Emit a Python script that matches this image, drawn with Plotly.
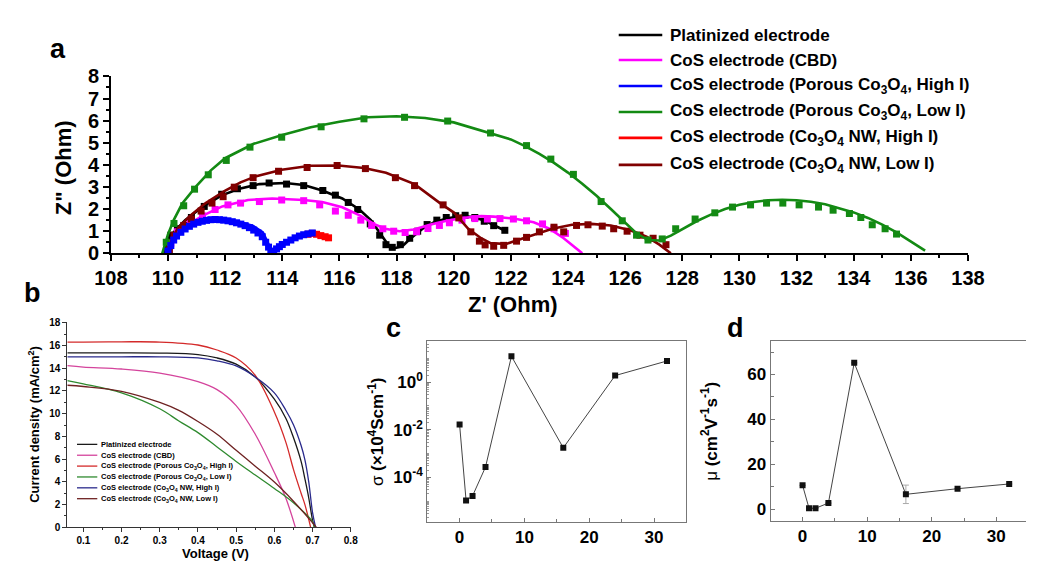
import plotly.graph_objects as go

W, H = 1043, 572
FONT = "Arial, Liberation Sans, sans-serif"

# ---------------- series names ----------------
names = [
    "Platinized electrode",
    "CoS electrode (CBD)",
    "CoS electrode (Porous Co<sub>3</sub>O<sub>4</sub>, High I)",
    "CoS electrode (Porous Co<sub>3</sub>O<sub>4</sub>, Low I)",
    "CoS electrode (Co<sub>3</sub>O<sub>4</sub> NW, High I)",
    "CoS electrode (Co<sub>3</sub>O<sub>4</sub> NW, Low I)",
]
colors_a = ["#000000", "#ff00ff", "#0000ff", "#138a13", "#ff0000", "#800000"]
colors_b = ["#1a1a1a", "#d4449c", "#d42a2a", "#2f8a2f", "#2a2a8c", "#6e2222"]

# ---------------- (a) Nyquist plots: Z' / Z'' in Ohm ----------------
# fitted curves and measured points
pt_fit_x = [109.88, 110.0, 110.2, 110.6, 111.2, 111.9, 112.5, 113.2, 114.1, 114.75, 115.4, 116.1, 116.7,
            117.1, 117.4, 117.7, 117.9, 118.2, 118.5, 118.9, 119.3, 119.75, 120.3, 120.7, 121.1, 121.45, 121.8]
pt_fit_y = [0.0, 0.53, 0.95, 1.5, 2.1, 2.63, 2.92, 3.13, 3.18, 3.09, 2.84, 2.48, 1.98,
            1.5, 0.95, 0.4, 0.22, 0.32, 0.68, 1.1, 1.4, 1.57, 1.7, 1.63, 1.47, 1.25, 1.02]
pt_dat_x = [110.0, 110.1, 110.33, 110.82, 111.27, 111.88, 112.43, 112.98, 113.54, 114.15, 114.75, 115.42, 115.86,
            116.31, 116.64, 117.08, 117.41, 117.63, 117.85, 118.13, 118.46, 118.74, 119.07, 119.41, 119.74, 120.07,
            120.4, 120.74, 121.07, 121.4, 121.79]
pt_dat_y = [0.46, 0.82, 1.11, 1.62, 2.12, 2.67, 2.92, 3.06, 3.18, 3.13, 3.06, 2.84, 2.63,
            2.3, 1.98, 1.33, 0.82, 0.39, 0.27, 0.39, 0.68, 1.0, 1.3, 1.5, 1.62, 1.7,
            1.72, 1.62, 1.45, 1.25, 1.04]

cbd_fit_x = [109.95, 110.1, 110.3, 110.7, 111.2, 111.9, 112.8, 113.65, 114.75, 115.4, 116.1, 116.75, 117.2, 117.6,
             118.1, 118.6, 119.2, 119.75, 120.3, 120.96, 121.4, 122.1, 122.8, 123.35, 123.85, 124.2, 124.5]
cbd_fit_y = [0.0, 0.5, 0.85, 1.28, 1.69, 2.12, 2.41, 2.48, 2.41, 2.32, 2.08, 1.69, 1.33, 1.11,
             1.0, 1.08, 1.3, 1.47, 1.6, 1.68, 1.66, 1.57, 1.4, 1.11, 0.68, 0.32, 0.0]
cbd_dat_x = [110.1, 110.33, 110.77, 111.21, 111.65, 112.1, 112.54, 113.2, 113.98, 114.75, 115.31, 115.86, 116.31,
             116.75, 117.13, 117.52, 117.9, 118.3, 118.7, 119.1, 119.5, 119.85, 120.29, 120.74, 121.18, 121.62,
             122.09, 122.55, 123.11, 123.51, 123.91]
cbd_dat_y = [0.46, 0.97, 1.4, 1.69, 1.98, 2.19, 2.27, 2.34, 2.41, 2.38, 2.19, 1.91, 1.72,
             1.5, 1.26, 1.11, 1.0, 0.94, 0.97, 1.12, 1.26, 1.38, 1.5, 1.57, 1.55, 1.57,
             1.55, 1.47, 1.33, 1.11, 0.9]

phi_fit_x = [109.98, 110.1, 110.33, 110.77, 111.3, 111.88, 112.43, 112.98, 113.32, 113.54, 113.65, 113.87,
             114.2, 114.53, 114.87, 115.1]
phi_fit_y = [0.0, 0.39, 0.82, 1.26, 1.47, 1.53, 1.45, 1.24, 0.95, 0.35, 0.07, 0.25,
             0.53, 0.75, 0.88, 0.95]
phi_dat_x = [110.0, 110.1, 110.2, 110.3, 110.45, 110.6, 110.75, 110.9, 111.05, 111.2, 111.35, 111.5, 111.65,
             111.8, 111.95, 112.1, 112.25, 112.4, 112.55, 112.7, 112.85, 113.0, 113.15, 113.3, 113.42, 113.52,
             113.6, 113.7, 113.8, 113.9, 114.0, 114.15, 114.3, 114.45, 114.6, 114.75, 114.9, 115.05]
phi_dat_y = [0.1, 0.35, 0.6, 0.78, 0.95, 1.1, 1.22, 1.32, 1.4, 1.45, 1.49, 1.52, 1.53,
             1.52, 1.5, 1.47, 1.43, 1.38, 1.32, 1.25, 1.16, 1.05, 0.92, 0.75, 0.5, 0.28,
             0.1, 0.08, 0.2, 0.3, 0.4, 0.5, 0.6, 0.7, 0.78, 0.84, 0.88, 0.92]

plo_fit_x = [109.8, 110.0, 110.2, 110.5, 111.0, 111.5, 112.0, 113.0, 114.0, 115.0, 116.0, 117.0, 118.0, 119.0,
             120.0, 121.0, 122.0, 122.5, 123.0, 123.5, 124.0, 124.5, 125.0, 125.5, 126.0, 126.4, 126.8, 127.2,
             127.6, 128.0, 128.5, 129.0, 129.5, 130.0, 130.5, 131.0, 131.5, 132.0, 132.5, 133.0, 133.5, 134.0,
             134.5, 135.0, 135.5, 136.0, 136.5]
plo_fit_y = [0.0, 0.85, 1.5, 2.25, 3.05, 3.75, 4.3, 4.95, 5.35, 5.7, 5.95, 6.15, 6.2, 6.12,
             5.92, 5.55, 5.15, 4.85, 4.5, 4.1, 3.65, 3.15, 2.6, 2.0, 1.4, 0.9, 0.6, 0.58,
             0.8, 1.1, 1.45, 1.75, 2.0, 2.2, 2.32, 2.4, 2.42, 2.4, 2.33, 2.22, 2.05, 1.85,
             1.6, 1.3, 0.95, 0.55, 0.12]
plo_dat_x = [109.94, 110.21, 110.55, 110.93, 111.41, 112.04, 112.87, 113.98, 115.36, 116.86, 118.28, 119.79,
             121.29, 122.55, 123.4, 124.19, 125.16, 125.9, 126.4, 126.8, 127.3, 127.77, 128.45, 129.14, 129.76,
             130.39, 130.95, 131.52, 132.09, 132.77, 133.28, 133.85, 134.25, 134.65, 135.1, 135.5]
plo_dat_y = [0.5, 1.35, 2.15, 2.9, 3.55, 4.2, 4.8, 5.25, 5.72, 6.08, 6.15, 5.98,
             5.44, 4.87, 4.26, 3.57, 2.34, 1.47, 0.82, 0.6, 0.65, 1.11, 1.55, 1.83, 2.09,
             2.19, 2.27, 2.27, 2.19, 2.09, 1.95, 1.8, 1.62, 1.29, 1.11, 0.87]

nhi_fit_x = [110.0, 110.2, 110.6, 111.2, 111.9, 112.6, 113.2, 113.6, 114.0, 114.5, 115.0, 115.3, 115.6]
nhi_fit_y = [0.0, 0.7, 1.15, 1.45, 1.52, 1.35, 0.95, 0.1, 0.35, 0.72, 0.88, 0.85, 0.7]
nhi_dat_x = [114.9, 115.05, 115.2, 115.35, 115.5, 115.62]
nhi_dat_y = [0.86, 0.9, 0.86, 0.8, 0.75, 0.7]

nlo_fit_x = [110.0, 110.1, 110.33, 110.77, 111.32, 111.99, 112.54, 113.09, 113.98, 114.98, 115.97, 116.86, 117.63,
             118.63, 119.52, 120.02, 120.51, 120.96, 121.29, 121.84, 122.09, 122.77, 123.45, 124.14, 124.82,
             125.5, 126.18, 126.75, 127.2, 127.6]
nlo_fit_y = [0.0, 0.53, 1.11, 1.69, 2.27, 2.82, 3.21, 3.49, 3.78, 3.96, 3.97, 3.86, 3.64,
             3.13, 2.27, 1.83, 1.11, 0.68, 0.46, 0.42, 0.53, 0.82, 1.11, 1.29, 1.33,
             1.26, 1.04, 0.75, 0.39, 0.0]
nlo_dat_x = [110.05, 110.21, 110.55, 110.82, 111.16, 111.54, 111.93, 112.32, 112.98, 113.87, 114.87, 115.92,
             116.91, 117.96, 118.63, 119.63, 120.18, 120.6, 120.9, 121.1, 121.4, 121.75, 122.2, 122.55, 123.0,
             123.51, 123.85, 124.3, 124.7, 125.2, 125.6, 126.07, 126.52, 126.98, 127.43]
nlo_dat_y = [0.17, 0.82, 1.26, 1.55, 1.91, 2.27, 2.56, 2.99, 3.42, 3.71, 3.88, 3.97,
             3.83, 3.42, 3.06, 2.19, 1.6, 0.97, 0.55, 0.38, 0.32, 0.36, 0.55, 0.72, 0.97,
             1.18, 0.97, 1.26, 1.29, 1.23, 1.11, 1.0, 0.82, 0.68, 0.39]

nyquist = [
    (pt_fit_x, pt_fit_y, pt_dat_x, pt_dat_y),
    (cbd_fit_x, cbd_fit_y, cbd_dat_x, cbd_dat_y),
    (phi_fit_x, phi_fit_y, phi_dat_x, phi_dat_y),
    (plo_fit_x, plo_fit_y, plo_dat_x, plo_dat_y),
    (nhi_fit_x, nhi_fit_y, nhi_dat_x, nhi_dat_y),
    (nlo_fit_x, nlo_fit_y, nlo_dat_x, nlo_dat_y),
]
draw_order_a = [0, 1, 5, 3, 4, 2]

# ---------------- (b) J-V curves ----------------
jv_v = [
    [0.058, 0.1, 0.2, 0.3, 0.4, 0.45, 0.5, 0.55, 0.6, 0.63, 0.65, 0.67, 0.68, 0.69, 0.7, 0.705],
    [0.058, 0.1, 0.2, 0.3, 0.4, 0.45, 0.5, 0.55, 0.6, 0.63, 0.655],
    [0.058, 0.1, 0.2, 0.3, 0.4, 0.45, 0.5, 0.55, 0.6, 0.63, 0.65, 0.67, 0.68, 0.695],
    [0.058, 0.1, 0.2, 0.3, 0.35, 0.4, 0.45, 0.5, 0.55, 0.6, 0.65, 0.7, 0.705],
    [0.058, 0.1, 0.2, 0.3, 0.4, 0.45, 0.5, 0.55, 0.6, 0.63, 0.65, 0.67, 0.68, 0.69, 0.7, 0.708],
    [0.058, 0.1, 0.2, 0.3, 0.35, 0.4, 0.45, 0.5, 0.55, 0.6, 0.65, 0.7, 0.71],
]
jv_j = [
    [15.35, 15.35, 15.35, 15.33, 15.2, 14.9, 14.35, 13.23, 11.27, 9.6, 7.9, 5.8, 4.26, 2.6, 0.62, 0.0],
    [14.22, 14.1, 13.93, 13.57, 12.81, 12.11, 10.71, 8.19, 4.82, 2.58, 0.0],
    [16.3, 16.3, 16.32, 16.3, 16.04, 15.6, 14.9, 13.37, 10.15, 7.5, 5.1, 3.0, 2.0, 0.0],
    [12.9, 12.62, 11.83, 10.43, 9.36, 8.33, 7.07, 5.8, 4.6, 3.42, 2.16, 0.5, 0.0],
    [15.0, 15.0, 15.0, 15.0, 14.9, 14.65, 14.2, 13.23, 11.83, 10.3, 9.03, 7.2, 5.94, 4.0, 1.3, 0.0],
    [12.5, 12.39, 11.97, 10.99, 10.29, 9.31, 8.19, 6.78, 5.38, 3.98, 2.3, 0.4, 0.0],
]

# ---------------- (c), (d) conductivity and mobility ----------------
x_cd = [0, 1, 2, 4, 8, 16, 24, 32]
sigma = [1.67e-2, 1.07e-5, 1.66e-5, 2.7e-4, 12.3, 1.74e-3, 1.9, 7.8]
mu = [10.7, 0.5, 0.5, 2.8, 65.2, 6.7, 9.2, 11.3]
mu_err = [0, 0, 0, 0, 0, 4.1, 0, 0]

c_ticks = [1e-4, 1e-2, 1]
c_ticktext = ["10<sup>-4</sup>", "10<sup>-2</sup>", "10<sup>0</sup>"]


def px(x):
    return x / W


def py(y):
    return 1 - y / H


fig = go.Figure()

# panel a
for i in draw_order_a:
    fx, fy, dx, dy = nyquist[i]
    fig.add_trace(go.Scatter(x=fx, y=fy, mode="lines", name=names[i], showlegend=False,
                             line=dict(color=colors_a[i], width=2.6), cliponaxis=False,
                             xaxis="x", yaxis="y"))
    fig.add_trace(go.Scatter(x=dx, y=dy, mode="markers", name=names[i], showlegend=False,
                             marker=dict(symbol="square", size=7, color=colors_a[i]), cliponaxis=False,
                             xaxis="x", yaxis="y"))

# panel b
for i in range(6):
    fig.add_trace(go.Scatter(x=jv_v[i], y=jv_j[i], mode="lines", name=names[i], showlegend=False,
                             line=dict(color=colors_b[i], width=1.3, shape="spline"), cliponaxis=False,
                             xaxis="x2", yaxis="y2"))

# panel c
fig.add_trace(go.Scatter(x=x_cd, y=sigma, mode="lines+markers", showlegend=False,
                         line=dict(color="#444", width=1),
                         marker=dict(symbol="square", size=6, color="#111"),
                         xaxis="x3", yaxis="y3"))

# panel d
fig.add_trace(go.Scatter(x=x_cd, y=mu, mode="lines+markers", showlegend=False,
                         line=dict(color="#444", width=1),
                         marker=dict(symbol="square", size=6, color="#111"),
                         error_y=dict(type="data", array=mu_err, color="#aaaaaa", thickness=1, width=3),
                         xaxis="x4", yaxis="y4"))

bold = dict(family=FONT, color="black", weight="bold")

axis_a = dict(showline=True, linecolor="black", linewidth=1.5, showgrid=False, zeroline=False,
              ticks="outside", tickcolor="black", tickwidth=1.5, ticklen=6)
axis_b = dict(showline=True, linecolor="#333", linewidth=1, showgrid=False, zeroline=False,
              ticks="outside", tickcolor="#333", tickwidth=1, ticklen=4)
axis_cd = dict(showline=True, linecolor="#777", linewidth=1, showgrid=False, zeroline=False,
               ticks="inside", tickcolor="#777", tickwidth=1, ticklen=4)

fig.update_layout(
    width=W, height=H,
    margin=dict(l=0, r=0, t=0, b=0),
    paper_bgcolor="white", plot_bgcolor="white",
    xaxis=dict(axis_a, domain=[px(97), px(983)], range=[108, 138], anchor="y",
               tickvals=list(range(108, 139, 2)), tickfont=dict(bold, size=20),
               minor=dict(dtick=1, ticks="outside", ticklen=3, tickcolor="black", tickwidth=1.5)),
    yaxis=dict(axis_a, domain=[py(252), py(68)], range=[0, 8], anchor="x",
               tickvals=list(range(0, 9)), tickfont=dict(bold, size=20),
               minor=dict(dtick=0.5, ticks="outside", ticklen=3, tickcolor="black", tickwidth=1.5)),
    xaxis2=dict(axis_b, domain=[px(52), px(345)], range=[0.058, 0.8], anchor="y2",
                tickvals=[0.1, 0.2, 0.3, 0.4, 0.5, 0.6, 0.7, 0.8], tickformat=".1f",
                tickfont=dict(bold, size=10),
                minor=dict(dtick=0.05, tick0=0.05, ticks="outside", ticklen=2, tickcolor="#333")),
    yaxis2=dict(axis_b, domain=[py(537), py(323)], range=[0, 18.1], anchor="x2",
                tickvals=list(range(0, 19, 2)), tickfont=dict(bold, size=10),
                minor=dict(dtick=1, ticks="outside", ticklen=2, tickcolor="#333")),
    xaxis3=dict(axis_cd, domain=[px(424), px(692)], range=[-5, 35], anchor="y3", mirror=True,
                tickvals=[0, 10, 20, 30], tickfont=dict(bold, size=17),
                minor=dict(dtick=5, ticks="inside", ticklen=3, tickcolor="#777")),
    yaxis3=dict(axis_cd, domain=[py(531), py(343)], type="log", range=[-5.86, 1.74], anchor="x3",
                mirror=True, tickvals=c_ticks, ticktext=c_ticktext, tickfont=dict(bold, size=17),
                minor=dict(tickvals=[m * 10.0 ** k for k in range(-6, 2) for m in range(1, 10)],
                           ticks="inside", ticklen=2, tickcolor="#999")),
    xaxis4=dict(axis_cd, domain=[px(779), 1.0], range=[-4.95, 34.6], anchor="y4", mirror=True,
                tickvals=[0, 10, 20, 30], tickfont=dict(bold, size=17),
                minor=dict(dtick=5, ticks="inside", ticklen=3, tickcolor="#777")),
    yaxis4=dict(axis_cd, domain=[py(530), py(343)], range=[-5, 75], anchor="x4",
                tickvals=[0, 20, 40, 60], tickfont=dict(bold, size=17),
                minor=dict(dtick=10, ticks="inside", ticklen=3, tickcolor="#777")),
)

ann = []
shapes = []


def label(text, x, y, size, angle=0, weight="bold", xanchor="center"):
    ann.append(dict(text=text, x=px(x), y=py(y), xref="paper", yref="paper", showarrow=False,
                    xanchor=xanchor, yanchor="middle", textangle=angle,
                    font=dict(family=FONT, size=size, color="black", weight=weight)))


# panel letters
label("a", 42, 40, 27)
label("b", 16, 293, 27)
label("c", 389, 330, 27)
label("d", 743, 330, 27)

# axis titles
label("Z\" (Ohm)", 48, 163, 22, angle=-90)
label("Z' (Ohm)", 513, 305, 22)
label("Current density (mA/cm<sup>2</sup>)", 18, 430, 13, angle=-90)
label("Voltage (V)", 205, 564, 13)
label("σ <b>(×10<sup>4</sup>Scm<sup>-1</sup>)</b>", 371, 437, 17, angle=-90, weight="normal")
label("μ <b>(cm<sup>2</sup>V<sup>-1</sup>s<sup>-1</sup>)</b>", 716, 437, 17, angle=-90, weight="normal")

# legend of panel a
rows_a = [25, 51, 78, 105, 132, 160]
for i in range(6):
    shapes.append(dict(type="line", xref="paper", yref="paper", x0=px(622), x1=px(667),
                       y0=py(rows_a[i]), y1=py(rows_a[i]), line=dict(color=colors_a[i], width=2.6)))
    label(names[i], 673, rows_a[i], 17, xanchor="left")

# legend of panel b
rows_b = [450.7, 462, 473.3, 484.6, 495.9, 507.2]
for i in range(6):
    shapes.append(dict(type="line", xref="paper", yref="paper", x0=px(62), x1=px(83),
                       y0=py(rows_b[i]), y1=py(rows_b[i]), line=dict(color=colors_b[i], width=1.3)))
    label(names[i], 85, rows_b[i], 7.5, xanchor="left")

fig.update_layout(annotations=ann, shapes=shapes)

fig.write_html("out.html")
